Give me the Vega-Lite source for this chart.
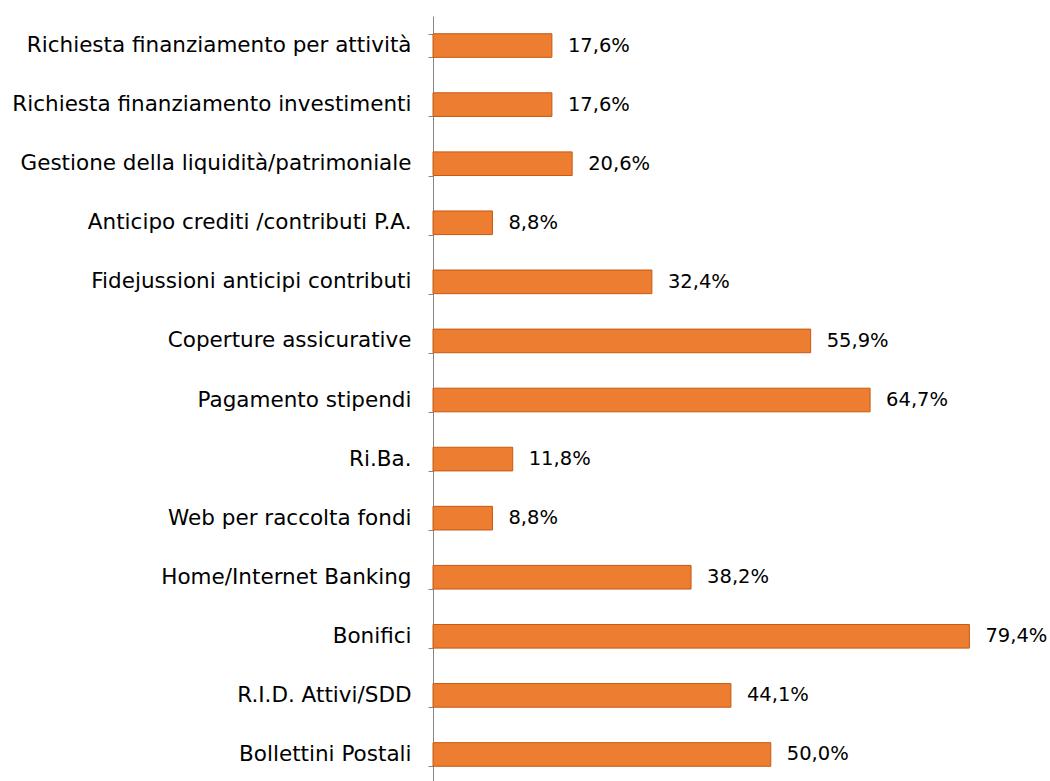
{
  "$schema": "https://vega.github.io/schema/vega-lite/v6.json",
  "width": 608,
  "height": 768,
  "autosize": {"type": "none"},
  "padding": {"left": 433, "top": 16, "right": 9, "bottom": 0},
  "background": "white",
  "config": {
    "view": {"stroke": null},
    "locale": {"number": {"decimal": ",", "thousands": ".", "grouping": [3], "currency": ["€", ""]}},
    "font": "DejaVu Sans"
  },
  "data": {
    "values": [
      {"voce": "Richiesta finanziamento per attività", "valore": 0.176},
      {"voce": "Richiesta finanziamento investimenti", "valore": 0.176},
      {"voce": "Gestione della liquidità/patrimoniale", "valore": 0.206},
      {"voce": "Anticipo crediti /contributi P.A.", "valore": 0.088},
      {"voce": "Fidejussioni anticipi contributi ", "valore": 0.324},
      {"voce": "Coperture assicurative", "valore": 0.559},
      {"voce": "Pagamento stipendi", "valore": 0.647},
      {"voce": "Ri.Ba.", "valore": 0.118},
      {"voce": "Web per raccolta fondi", "valore": 0.088},
      {"voce": "Home/Internet Banking", "valore": 0.382},
      {"voce": "Bonifici", "valore": 0.794},
      {"voce": "R.I.D. Attivi/SDD", "valore": 0.441},
      {"voce": "Bollettini Postali", "valore": 0.5}
    ]
  },
  "encoding": {
    "y": {
      "field": "voce",
      "type": "nominal",
      "sort": null,
      "scale": {"paddingInner": 0.6, "paddingOuter": 0.3},
      "axis": {
        "title": null,
        "tickBand": "extent",
        "tickSize": 5,
        "tickColor": "#868686",
        "domainColor": "#868686",
        "labelPadding": 17,
        "labelFontSize": 21.5,
        "labelColor": "#000000",
        "labelLimit": 500,
        "grid": false
      }
    },
    "x": {
      "field": "valore",
      "type": "quantitative",
      "scale": {"domain": [0, 0.9]},
      "axis": null
    }
  },
  "layer": [
    {
      "mark": {"type": "bar", "fill": "#ED7D31", "stroke": "#C55A11", "strokeWidth": 1}
    },
    {
      "mark": {"type": "text", "align": "left", "dx": 16, "fontSize": 19.5, "color": "#000000", "baseline": "middle"},
      "encoding": {"text": {"field": "valore", "type": "quantitative", "format": ".1%"}}
    }
  ]
}
